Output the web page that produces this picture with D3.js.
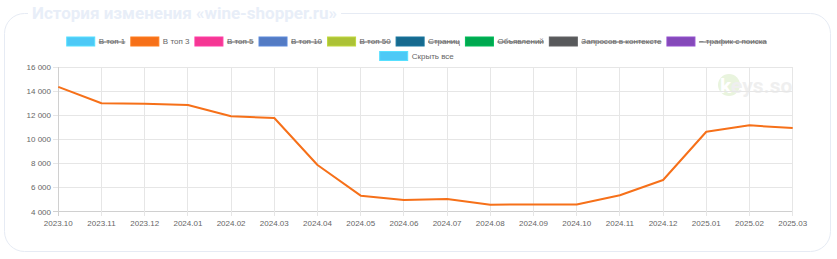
<!DOCTYPE html>
<html><head><meta charset="utf-8">
<script src="https://cdn.jsdelivr.net/npm/d3@7/dist/d3.min.js"></script>
<style>html,body{margin:0;padding:0;background:#fff;}svg{display:block;}</style>
</head><body>
<svg id="c" width="837" height="259"></svg>
<script>
const months = ["2023.10","2023.11","2023.12","2024.01","2024.02","2024.03","2024.04","2024.05","2024.06","2024.07","2024.08","2024.09","2024.10","2024.11","2024.12","2025.01","2025.02","2025.03"];
const top3 = [14350,12990,12960,12850,11910,11770,7870,5330,4970,5050,4580,4600,4600,5360,6630,10630,11160,10940];
const yTicks = [4000,6000,8000,10000,12000,14000,16000];
const legendLabels = ["В топ 1","В топ 3","В топ 5","В топ 10","В топ 50","Страниц","Объявлений","Запросов в контексте","~ трафик с поиска"];
const legendColors = ["#4dc9f6","#f67019","#f53794","#537bc4","#acc236","#166a8f","#00a950","#58595b","#8549ba"];
const legendActive = [false,true,false,false,false,false,false,false,false];
const hideAllLabel = "Скрыть все";
const titleText = "История изменения «wine-shopper.ru»";

const svg = d3.select("#c");
const font = "'Liberation Sans', Arial, Helvetica, sans-serif";

// card
const cardX = 4.5, cardY = 13.5, cardW = 826, cardH = 238, r = 20;
svg.append("rect").attr("x",cardX).attr("y",cardY).attr("width",cardW).attr("height",cardH)
  .attr("rx",r).attr("ry",r).attr("fill","#fff").attr("stroke","#e6ebf4").attr("stroke-width",1);
const title = svg.append("text").attr("x",32).attr("y",19).text(titleText)
  .attr("font-family","Roboto, 'Open Sans', sans-serif").attr("font-weight","bold").attr("font-size",17)
  .attr("fill","#e8eef8");
const tw = title.node().getComputedTextLength();
svg.insert("rect","text").attr("x",28).attr("y",8).attr("width",tw+8).attr("height",12).attr("fill","#fff");

// scales
const x = d3.scalePoint().domain(months).range([58.3,792.7]);
const y = d3.scaleLinear().domain([4000,16000]).range([211.7,67]);

const g = svg.append("g");
// watermark
g.append("circle").attr("cx",729).attr("cy",85).attr("r",11).attr("fill","#e9f4de");
const wmt = g.append("text").attr("x",720).attr("y",93).attr("font-family","Roboto, sans-serif")
  .attr("font-weight","bold").attr("font-size",21);
wmt.append("tspan").attr("fill","#ffffff").text("k");
wmt.append("tspan").attr("fill","#efefef").text("eys.so");

// grid
g.selectAll(".hg").data(yTicks).join("line")
  .attr("x1",53).attr("x2",792.7).attr("y1",d=>y(d)).attr("y2",d=>y(d))
  .attr("stroke",d=>d===4000?"#d0d0d0":"#e6e6e6").attr("stroke-width",1).attr("shape-rendering","crispEdges");
g.selectAll(".vg").data(months).join("line")
  .attr("x1",d=>x(d)).attr("x2",d=>x(d)).attr("y1",67).attr("y2",216)
  .attr("stroke",(d,i)=>i===0?"#d0d0d0":"#e6e6e6").attr("stroke-width",1).attr("shape-rendering","crispEdges");

// y labels
g.selectAll(".yl").data(yTicks).join("text")
  .attr("x",51).attr("y",d=>y(d)).attr("dy","0.35em").attr("text-anchor","end")
  .attr("font-family",font).attr("font-size",8).attr("fill","#666")
  .text(d=>d3.format(",")(d).replace(/,/g," "));
// x labels
g.selectAll(".xl").data(months).join("text")
  .attr("x",d=>x(d)).attr("y",226).attr("text-anchor","middle")
  .attr("font-family",font).attr("font-size",8).attr("fill","#666").text(d=>d);

// line
const line = d3.line().x((d,i)=>x(months[i])).y(d=>y(d));
g.append("path").datum(top3).attr("d",line).attr("fill","none")
  .attr("stroke","#f67019").attr("stroke-width",2).attr("stroke-linejoin","round");

// legend
function legendRow(items, cy, cx){
  const row = svg.append("g");
  const boxW = 29, boxH = 10, gapT = 3.5, gapI = 5;
  let xpos = 0;
  const placed = [];
  items.forEach(it=>{
    const t = row.append("text").attr("y",cy).attr("dy","0.35em").attr("font-family",font)
      .attr("font-size",8).attr("fill","#666").text(it.label);
    const w = t.node().getComputedTextLength();
    placed.push({it,t,w,x0:xpos});
    xpos += boxW + gapT + w + gapI;
  });
  const total = xpos - gapI;
  const off = cx - total/2;
  placed.forEach(p=>{
    const bx = off + p.x0;
    row.append("rect").attr("x",bx+0.5).attr("y",cy-boxH/2+0.5).attr("width",boxW-1).attr("height",boxH-1)
      .attr("fill",p.it.color).attr("stroke",d3.color(p.it.color).brighter(0.3)).attr("stroke-width",1);
    p.t.attr("x",bx+boxW+gapT);
    if(p.it.strike){
      row.append("line").attr("x1",bx+boxW+gapT).attr("x2",bx+boxW+gapT+p.w)
        .attr("y1",cy+0.5).attr("y2",cy+0.5).attr("stroke","#666").attr("stroke-width",1);
    }
  });
}
legendRow(legendLabels.map((l,i)=>({label:l,color:legendColors[i],strike:!legendActive[i]})), 41.5, 416.5);
legendRow([{label:hideAllLabel,color:legendColors[0],strike:false}], 56, 416.5);
</script>
</body></html>
